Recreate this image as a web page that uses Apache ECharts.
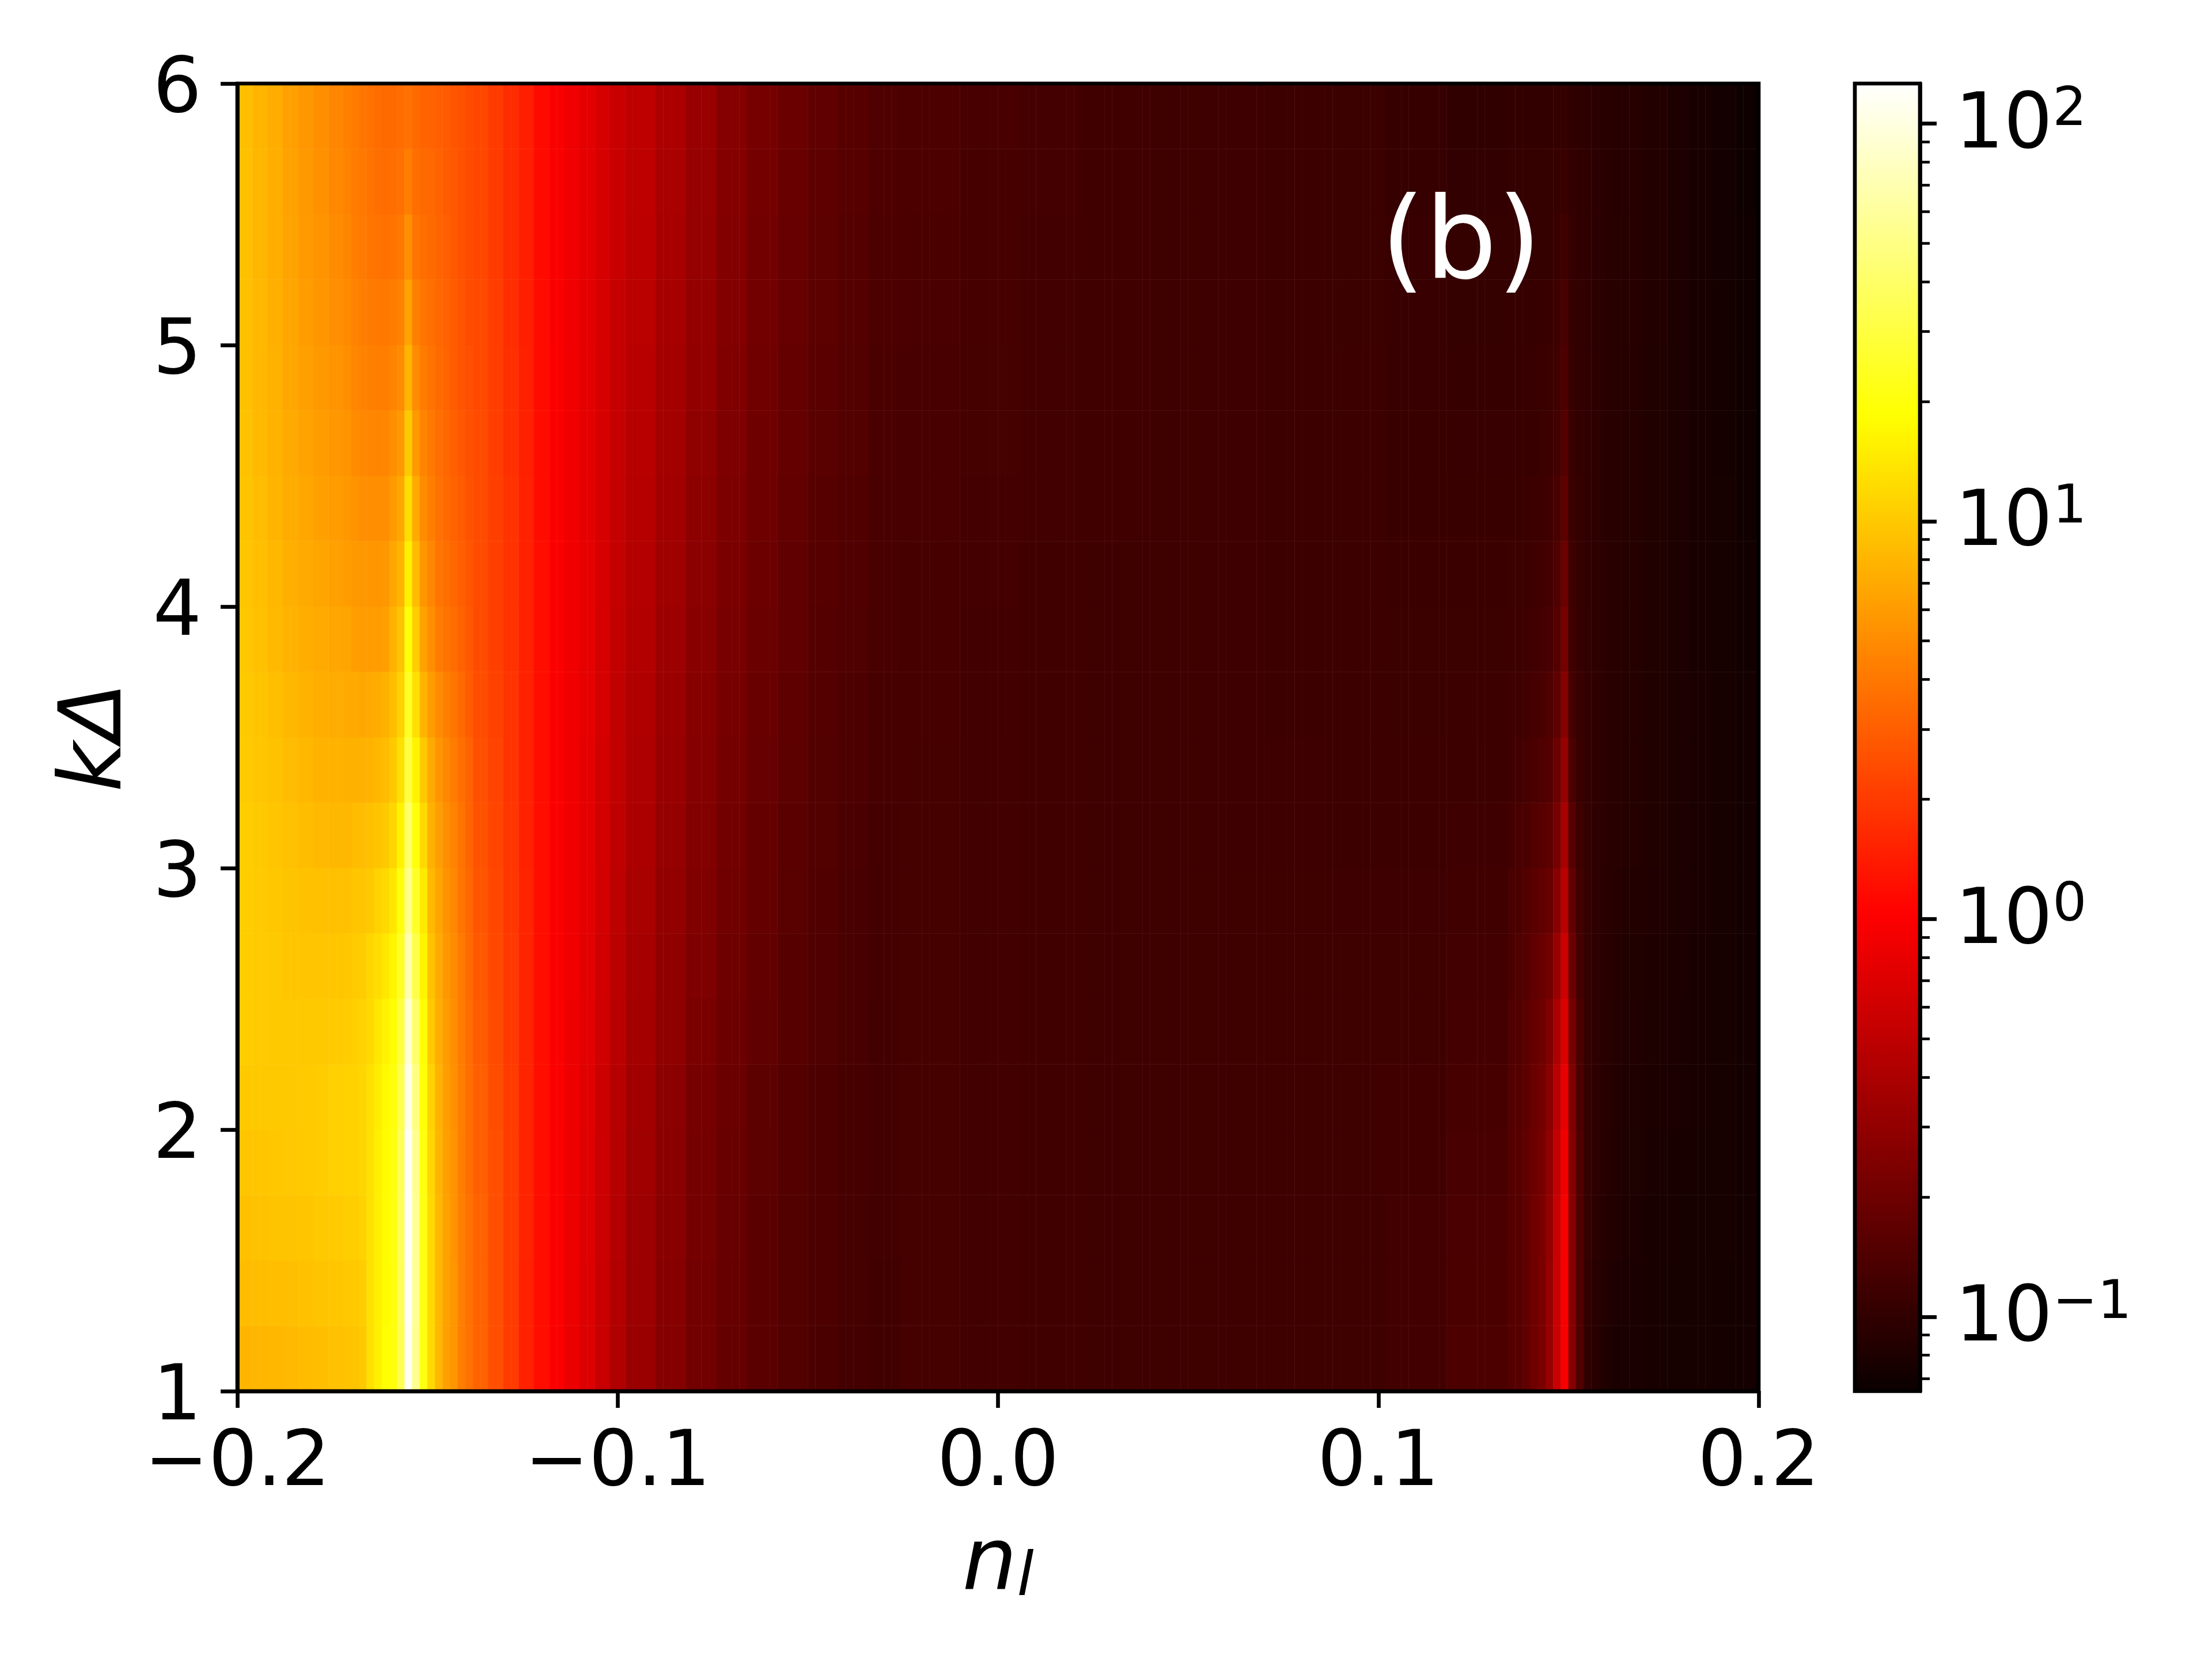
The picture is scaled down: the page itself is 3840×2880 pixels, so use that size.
<!DOCTYPE html>
<html><head><meta charset="utf-8">
<style>html,body{margin:0;padding:0;background:#fff}#c{width:3840px;height:2880px}</style>
<script src="https://cdn.jsdelivr.net/npm/echarts@6/dist/echarts.min.js"></script>
</head><body><div id="c"></div>
<script>
const kCentres=[1.125,1.375,1.625,1.875,2.125,2.375,2.625,2.875,3.125,3.375,3.625,3.875,4.125,4.375,4.625,4.875,5.125,5.375,5.625,5.875];
const xTicks=[-0.2,-0.1,0,0.1,0.2];
const colorbarMajor=[0.1,1,10,100];
const colorbarMinor=[0.07,0.08,0.09,0.2,0.3,0.4,0.5,0.6,0.7,0.8,0.9,2,3,4,5,6,7,8,9,20,30,40,50,60,70,80,90];
const vMin=0.065, vMax=126;
// grid columns covered by each sample in the blocks below
const spans=[2,2,2,2,2,2,2,1, 1,1,1,1,1,1,1,1,1,1,1,1,1,1,1,1, 2,2,2,2,2,2,2,2,2,2, 4,4,4,4,4,4,4,4,4, 8,8,8,8,8,8,8,8,8,8, 1,1,1,1,1,1,1,1,1,1,1,1,1,1,1, 3,3,3,3,3,3];
const blockA=[
[8,8.1,8.2,8.4,8.6,8.9,9.1,9.3],[8.6,8.7,8.8,8.9,9.1,9.4,9.7,9.9],[9,9.2,9.4,9.5,9.7,10,10.3,10.6],[9.6,9.7,9.8,9.9,10.1,10.4,10.7,11],
[10,10,10,10,10.1,10.4,10.7,11],[10.5,10.2,10,10,10,10,10.3,10.5],[10.5,10.2,10,9.7,9.6,9.6,9.7,9.8],[10.5,10.1,9.8,9.4,9.2,9,9,9],
[10.5,10,9.6,9,8.7,8.4,8.3,8.2],[10.2,9.7,9.2,8.6,8.2,7.8,7.7,7.6],[10,9.4,8.8,8.2,7.8,7.4,7.2,7],[9.8,9,8.4,7.8,7.4,7,6.7,6.6],
[9.6,8.8,8.2,7.5,7,6.6,6.3,6.1],[9.4,8.6,8,7.2,6.8,6.3,6,5.7],[9.2,8.4,7.8,7,6.5,6,5.7,5.4],[9,8.2,7.6,6.8,6.3,5.8,5.4,5.1],
[9,8.2,7.5,6.6,6.1,5.6,5.2,4.9],[9,8.1,7.4,6.5,5.9,5.4,5,4.7],[9,8.1,7.4,6.4,5.8,5.3,4.8,4.5],[8.9,8,7.3,6.3,5.7,5.2,4.7,4.4]];
const blockB=[
[9.5,10,13,15.5,18.5,20,34,115,54,21,12,8.2,6.3,5.6,4.3,3.7],
[10,10.5,13,15.5,18,20,35,118,56,21,12,8.2,6.4,5.6,4.4,3.7],
[10.5,11,13,15.5,18,20.5,36,120,56,21,12,8.2,6.4,5.5,4.4,3.7],
[11,11.5,13,15.5,18,20.5,36,118,54,20.5,11.5,8,6.3,5.4,4.3,3.6],
[11,11.5,13,15,17.5,20,33,105,48,19.5,11,7.8,6.2,5.3,4.3,3.6],
[10.8,11,12,14,16,18.5,29,88,40,18.5,10,7.4,6,5.1,4.2,3.5],
[10.2,10.4,11.5,12.5,14,16.5,24,68,32,16.5,9.2,7,5.7,5,4.1,3.4],
[9.6,9.6,10,11,12,14,20,52,25,14.5,8.4,6.6,5.4,4.8,3.9,3.3],
[8.6,8.6,9,9.4,10,11.5,16,40,20,12,7.6,6.2,5.1,4.5,3.8,3.2],
[7.6,7.6,7.8,8.2,8.6,10,13,30,16,10,7,5.6,4.8,4.2,3.6,3.1],
[7,6.8,7,7.2,7.6,8.8,11,24,13,8,6,5,4.4,3.9,3.4,2.9],
[6.2,6.1,6.1,6.1,6.3,7.8,9.4,19.5,10.5,6.4,5.2,4.2,3.8,3.5,3.1,2.8],
[5.8,5.7,5.6,5.6,5.7,6.8,8,15.5,8.6,5.6,4.7,3.9,3.6,3.3,3,2.7],
[5.4,5.2,5.1,5.1,5.2,5.9,6.8,12.5,7,5,4.3,3.7,3.4,3.1,2.9,2.6],
[5,4.8,4.7,4.6,4.7,5.2,5.8,10,5.8,4.6,4,3.6,3.3,3,2.8,2.5],
[4.7,4.5,4.4,4.3,4.3,4.6,5,8,5,4.2,3.8,3.4,3.2,2.9,2.7,2.5],
[4.5,4.3,4.1,4,4,4.2,4.5,6.5,4.4,3.9,3.6,3.3,3.1,2.9,2.7,2.4],
[4.3,4.1,3.9,3.8,3.7,3.8,4,5.2,3.9,3.6,3.4,3.2,3,2.8,2.6,2.4],
[4.2,4,3.8,3.6,3.5,3.6,3.7,4.3,3.6,3.4,3.3,3.1,2.9,2.8,2.6,2.4],
[4.2,3.9,3.7,3.5,3.4,3.4,3.5,3.7,3.4,3.2,3.1,3,2.9,2.7,2.6,2.4]];
const blockC=[
[3.1,2.5,2,1.5,1.2,1,.82,.7,.55,.42],[3.1,2.5,2,1.5,1.2,1,.83,.7,.56,.43],[3.1,2.5,2,1.55,1.2,1,.84,.71,.57,.44],[3,2.5,2,1.55,1.2,1,.85,.72,.58,.45],
[3,2.45,2,1.55,1.2,1,.86,.73,.59,.46],[2.9,2.4,1.95,1.55,1.2,1,.86,.74,.6,.47],[2.8,2.35,1.95,1.55,1.2,1,.87,.75,.61,.48],[2.7,2.3,1.9,1.55,1.2,1,.87,.76,.62,.49],
[2.6,2.25,1.9,1.5,1.2,1,.88,.77,.63,.5],[2.5,2.2,1.85,1.5,1.2,1,.88,.77,.63,.51],[2.45,2.15,1.85,1.5,1.2,1,.88,.78,.64,.51],[2.4,2.1,1.8,1.5,1.2,1,.88,.78,.64,.52],
[2.4,2.1,1.8,1.5,1.2,1,.88,.78,.65,.53],[2.4,2.1,1.8,1.5,1.18,1,.88,.77,.65,.53],[2.4,2.05,1.75,1.48,1.18,1,.88,.77,.65,.54],[2.35,2.05,1.75,1.48,1.16,1,.87,.77,.65,.54],
[2.35,2.05,1.72,1.46,1.16,.99,.87,.76,.65,.54],[2.3,2,1.7,1.46,1.15,.99,.87,.76,.65,.55],[2.3,2,1.7,1.45,1.15,.98,.87,.76,.65,.55],[2.3,2,1.7,1.45,1.15,.98,.87,.76,.65,.55]];
const blockD=[
[.33,.26,.21,.18,.16,.145,.135,.125,.12],[.335,.265,.213,.182,.161,.146,.136,.126,.12],[.34,.27,.215,.185,.162,.147,.136,.126,.121],[.35,.275,.218,.187,.163,.148,.137,.127,.121],
[.36,.28,.22,.19,.165,.15,.138,.128,.122],[.37,.29,.23,.195,.17,.153,.14,.13,.123],[.38,.295,.24,.2,.175,.155,.142,.131,.124],[.39,.3,.245,.205,.178,.158,.144,.132,.125],
[.4,.31,.25,.21,.18,.16,.145,.133,.125],[.41,.32,.26,.215,.185,.165,.147,.136,.127],[.42,.33,.265,.22,.188,.168,.149,.138,.128],[.43,.34,.27,.225,.19,.17,.15,.14,.13],
[.44,.35,.28,.23,.195,.173,.153,.142,.131],[.45,.36,.285,.235,.2,.175,.155,.144,.132],[.46,.365,.29,.24,.202,.178,.158,.146,.134],[.47,.37,.3,.245,.205,.18,.16,.147,.135],
[.48,.38,.305,.25,.21,.183,.163,.15,.136],[.485,.385,.31,.252,.213,.185,.165,.151,.137],[.49,.39,.315,.256,.216,.188,.168,.153,.139],[.5,.4,.32,.26,.22,.19,.17,.155,.14]];
const blockE=[
[.126,.122,.119,.118,.117,.117,.117,.118,.123,.136],[.126,.122,.119,.118,.117,.117,.117,.118,.122,.135],[.126,.122,.119,.118,.117,.117,.117,.118,.121,.133],[.126,.122,.119,.118,.117,.117,.117,.118,.12,.131],
[.126,.122,.119,.118,.117,.117,.117,.117,.119,.128],[.126,.122,.119,.118,.117,.117,.117,.117,.118,.125],[.126,.122,.119,.118,.117,.117,.117,.117,.117,.122],[.126,.122,.119,.118,.117,.117,.117,.116,.116,.119],
[.126,.122,.119,.118,.117,.116,.116,.115,.114,.116],[.126,.122,.119,.118,.117,.116,.116,.115,.113,.114],[.127,.123,.12,.118,.117,.116,.115,.114,.112,.113],[.128,.123,.12,.118,.117,.116,.115,.114,.112,.112],
[.129,.124,.12,.118,.117,.116,.115,.114,.111,.111],[.13,.125,.121,.119,.117,.116,.115,.113,.11,.11],[.131,.126,.121,.119,.117,.116,.115,.113,.11,.108],[.132,.126,.122,.119,.118,.116,.115,.113,.109,.107],
[.134,.127,.122,.12,.118,.116,.115,.112,.109,.105],[.135,.128,.123,.12,.118,.116,.114,.112,.108,.104],[.136,.129,.124,.12,.118,.116,.114,.112,.107,.102],[.138,.13,.124,.12,.118,.116,.114,.112,.107,.1]];
const blockF=[
[.15,.155,.17,.2,.23,.31,.56,.95,.26,.14,.1,.09,.084,.08,.078],
[.15,.155,.17,.2,.23,.31,.56,.95,.26,.14,.102,.092,.086,.082,.08],
[.15,.155,.17,.2,.23,.3,.55,.93,.26,.14,.104,.094,.088,.084,.082],
[.15,.155,.17,.195,.22,.29,.52,.88,.25,.14,.105,.095,.09,.086,.084],
[.145,.15,.165,.19,.21,.27,.47,.8,.24,.135,.105,.096,.091,.088,.085],
[.14,.145,.16,.18,.2,.24,.4,.68,.22,.13,.105,.097,.092,.089,.086],
[.135,.14,.15,.17,.185,.21,.33,.57,.19,.125,.105,.097,.093,.09,.087],
[.13,.135,.145,.16,.17,.185,.27,.47,.17,.12,.105,.098,.094,.091,.088],
[.125,.13,.135,.145,.155,.165,.22,.38,.15,.115,.104,.098,.095,.092,.09],
[.12,.122,.128,.135,.14,.15,.19,.31,.135,.11,.103,.098,.095,.092,.09],
[.116,.118,.122,.128,.132,.14,.165,.26,.125,.108,.102,.098,.095,.092,.09],
[.113,.114,.116,.12,.125,.132,.15,.22,.118,.106,.101,.098,.095,.092,.09],
[.112,.112,.114,.116,.12,.125,.14,.19,.113,.105,.1,.097,.095,.092,.09],
[.11,.11,.111,.113,.115,.12,.13,.165,.11,.104,.1,.097,.094,.092,.09],
[.109,.109,.11,.11,.112,.115,.122,.15,.108,.103,.1,.097,.094,.092,.09],
[.107,.107,.108,.108,.11,.112,.117,.138,.106,.102,.099,.096,.094,.091,.089],
[.106,.106,.106,.107,.107,.11,.113,.13,.105,.101,.098,.096,.093,.091,.089],
[.105,.105,.105,.105,.105,.107,.11,.12,.104,.1,.097,.095,.093,.091,.089],
[.104,.104,.104,.104,.104,.105,.106,.11,.102,.099,.097,.095,.093,.091,.088],
[.103,.103,.103,.103,.103,.103,.103,.104,.1,.098,.096,.094,.092,.09,.088]];
const blockG=[
[.078,.076,.075,.074,.073,.072],[.078,.077,.075,.074,.073,.072],[.079,.077,.076,.075,.074,.072],[.08,.078,.077,.075,.074,.072],[.081,.079,.078,.076,.074,.072],
[.082,.08,.078,.076,.075,.072],[.083,.081,.079,.077,.075,.072],[.085,.082,.08,.078,.075,.072],[.086,.083,.08,.078,.075,.072],[.086,.083,.08,.078,.075,.072],
[.086,.083,.08,.078,.075,.072],[.087,.083,.08,.077,.074,.071],[.087,.083,.08,.077,.074,.071],[.087,.083,.08,.077,.074,.07],[.087,.083,.08,.077,.073,.07],
[.087,.083,.08,.077,.073,.07],[.088,.084,.08,.076,.073,.069],[.088,.084,.08,.076,.072,.069],[.088,.084,.08,.076,.072,.068],[.088,.084,.08,.076,.072,.068]];

const cellData=[];
kCentres.forEach((k,r)=>{
  const row=[...blockA[r],...blockB[r],...blockC[r],...blockD[r],...blockE[r],...blockF[r],...blockG[r]];
  let c=0;
  row.forEach((v,i)=>{for(let s=0;s<spans[i];s++){cellData.push([c,r,Math.log10(v)]);c++;}});
});
const columnNames=[];for(let i=0;i<200;i++)columnNames.push(String(i));

// matplotlib "hot" colour map as equally spaced stops
function hot(t){
  const r=Math.min(1,0.0416+t/0.365*0.9584),g=Math.max(0,Math.min(1,(t-0.365)/0.381)),b=Math.max(0,Math.min(1,(t-0.746)/0.254));
  const h=x=>Math.round(x*255).toString(16).padStart(2,'0');return '#'+h(r)+h(g)+h(b);
}
const hotStops=[];for(let i=0;i<=128;i++)hotStops.push(hot(i/128));

const FONT='DejaVu Sans',TS=133,LW=6.67;
const line={lineStyle:{color:'#000',width:LW}};
const fmtTick=v=>v.toFixed(1).replace('-','\u2212');
const supers={'-1':'\u22121','0':'0','1':'1','2':'2'};

const chart=echarts.init(document.getElementById('c'),null,{renderer:'canvas',width:3840,height:2880});
chart.setOption({
  animation:false,backgroundColor:'#fff',
  textStyle:{fontFamily:FONT},
  grid:[
    {left:412,top:145,width:2641,height:2270,show:true,z:10,backgroundColor:'transparent',borderColor:'#000',borderWidth:LW},
    {left:3220,top:145,width:113,height:2270,show:true,z:10,backgroundColor:'transparent',borderColor:'#000',borderWidth:LW}
  ],
  xAxis:[
    {type:'category',gridIndex:0,data:columnNames,show:false},
    {type:'value',gridIndex:0,position:'bottom',min:-0.2,max:0.2,interval:0.1,splitLine:{show:false},z:11,
     axisLine:{show:true,onZero:false,...line},axisTick:{show:true,length:29,...line},
     axisLabel:{fontSize:TS,color:'#000',fontFamily:FONT,margin:62,formatter:fmtTick,hideOverlap:false},
     name:'{i|n}{s|l}',nameLocation:'middle',nameGap:229,
     nameTextStyle:{rich:{i:{fontSize:150,fontStyle:'italic',fontFamily:FONT,color:'#000'},s:{fontSize:105,fontStyle:'italic',fontFamily:FONT,color:'#000',verticalAlign:'bottom',padding:[40,0,0,0]}}}},
    {type:'value',gridIndex:1,show:false,min:0,max:1}
  ],
  yAxis:[
    {type:'category',gridIndex:0,data:kCentres.map(String),show:false},
    {type:'value',gridIndex:0,position:'left',min:1,max:6,interval:1,splitLine:{show:false},z:11,
     axisLine:{show:true,onZero:false,...line},axisTick:{show:true,length:29,...line},
     axisLabel:{fontSize:TS,color:'#000',fontFamily:FONT,margin:62,verticalAlign:'top',lineHeight:28,hideOverlap:false},
     name:'k\u0394',nameLocation:'middle',nameRotate:90,nameGap:167,
     nameTextStyle:{fontSize:150,fontStyle:'italic',fontFamily:FONT,color:'#000'}},
    {type:'value',gridIndex:1,position:'right',min:Math.log10(vMin),max:Math.log10(vMax),splitLine:{show:false},z:11,
     axisLine:{show:true,onZero:false,...line},
     axisTick:{show:true,length:29,customValues:colorbarMajor.map(Math.log10),...line},
     axisLabel:{show:true,margin:61,color:'#000',padding:[14,0,0,0],customValues:colorbarMajor.map(Math.log10),hideOverlap:false,showMinLabel:true,showMaxLabel:true,
       formatter:v=>'{b|10}{s|'+supers[String(Math.round(v))]+'}',
       rich:{b:{fontSize:TS,fontFamily:FONT,color:'#000',lineHeight:150},s:{fontSize:93,fontFamily:FONT,color:'#000',verticalAlign:'top',lineHeight:91,padding:[0,0,0,0]}}}},
    {type:'value',gridIndex:1,position:'right',min:Math.log10(vMin),max:Math.log10(vMax),splitLine:{show:false},z:11,
     axisLine:{show:false,onZero:false},
     axisTick:{show:true,length:17,customValues:colorbarMinor.map(Math.log10),lineStyle:{color:'#000',width:4.6}},
     axisLabel:{show:false}}
  ],
  visualMap:{type:'continuous',seriesIndex:0,dimension:2,min:Math.log10(vMin),max:Math.log10(vMax),show:true,calculable:false,hoverLink:false,
    left:3220,top:145,padding:0,itemWidth:113,itemHeight:2270,orient:'vertical',z:1,inRange:{color:hotStops}},
  series:[{type:'heatmap',xAxisIndex:0,yAxisIndex:0,data:cellData,progressive:0,animation:false,silent:true,itemStyle:{borderWidth:0},emphasis:{disabled:true}}],
  graphic:[{type:'text',left:2397,top:332,z:20,style:{text:'(b)',fill:'#fff',fontSize:197,fontFamily:FONT}}]
});
</script></body></html>
